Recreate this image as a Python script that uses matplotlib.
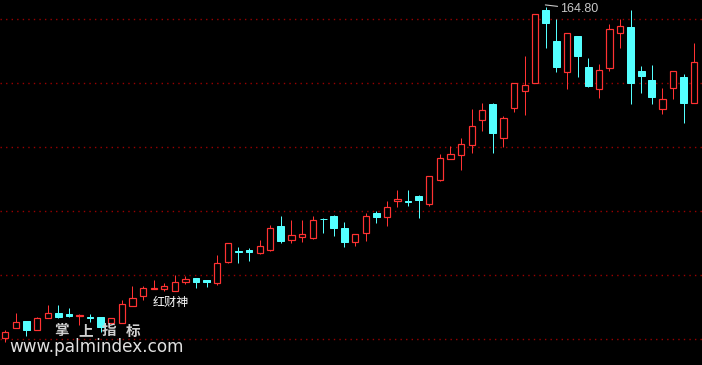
import matplotlib
matplotlib.use("Agg")
import matplotlib.pyplot as plt
import numpy as np

# ---- data (OHLC) ----
opens = [61.22, 64.35, 66.63, 63.82, 67.66, 69.03, 68.81, 68.19, 67.88, 67.78,
         65.85, 65.91, 71.41, 74.53, 76.63, 76.53, 76.10, 78.72, 80.16, 79.53,
         78.41, 85.16, 88.41, 88.82, 87.97, 88.82, 96.31, 92.03, 92.97, 92.66,
         98.66, 99.44, 95.69, 91.41, 94.03, 100.38, 99.03, 104.03, 104.19, 105.78,
         103.19, 110.69, 117.35, 118.60, 121.72, 129.53, 134.53, 123.91, 133.28, 138.60,
         141.10, 163.82, 154.13, 144.53, 155.78, 146.00, 139.03, 145.78, 156.72, 158.50,
         144.75, 141.94, 132.78, 139.53, 142.88, 134.85]
highs = [63.82, 69.22, 66.63, 67.97, 71.63, 71.63, 70.60, 68.81, 68.81, 67.78,
         67.47, 73.19, 77.56, 77.56, 79.44, 78.60, 81.00, 80.69, 80.16, 79.53,
         87.25, 90.91, 89.85, 89.35, 91.94, 96.63, 99.44, 98.19, 98.19, 99.44,
         98.81, 99.75, 97.56, 93.72, 100.28, 101.00, 104.13, 107.57, 107.57, 106.10,
         111.94, 118.82, 121.32, 123.82, 132.88, 134.85, 134.85, 130.78, 140.91, 149.44,
         162.47, 164.80, 161.00, 156.63, 155.78, 148.82, 146.94, 159.44, 160.91, 163.82,
         146.32, 146.63, 139.44, 144.75, 143.82, 153.60]
lows = [60.16, 64.35, 62.03, 63.82, 67.66, 67.66, 67.97, 65.38, 66.41, 63.10,
        65.85, 65.91, 71.41, 73.19, 76.63, 76.10, 76.10, 78.10, 76.85, 77.16,
        77.88, 84.85, 84.66, 85.47, 87.56, 88.60, 90.91, 91.10, 91.41, 92.35,
        94.22, 93.28, 89.85, 90.16, 91.72, 97.35, 96.41, 102.35, 102.66, 98.91,
        102.66, 110.47, 117.35, 113.82, 119.22, 126.10, 119.22, 120.91, 132.03, 131.00,
        141.10, 152.03, 144.53, 139.13, 142.97, 139.85, 136.41, 144.85, 152.03, 134.44,
        137.97, 134.53, 131.41, 135.97, 128.60, 134.85]
closes = [63.19, 66.41, 63.91, 67.66, 69.03, 67.97, 68.28, 68.59, 67.47, 64.75,
          67.47, 71.94, 73.72, 76.94, 76.94, 77.56, 78.72, 79.75, 78.91, 78.91,
          84.66, 90.91, 88.10, 88.19, 90.06, 95.60, 91.63, 93.41, 93.81, 98.19,
          98.35, 95.78, 91.41, 93.72, 99.44, 99.22, 102.16, 104.75, 103.88, 104.53,
          111.94, 117.57, 118.72, 121.94, 127.57, 132.57, 125.47, 130.07, 140.91, 140.28,
          162.47, 159.85, 146.10, 156.63, 149.53, 140.07, 145.07, 157.88, 158.82, 141.10,
          143.28, 136.72, 135.91, 144.75, 134.85, 147.57]
grid_levels = [61, 81, 101, 121, 141, 161]
peak_label = "164.80"
indicator_name = "红财神"
brand_chars = ["掌", "上", "指", "标"]
site = "www.palmindex.com"

UP = "#ff3232"
DOWN = "#54ffff"
BG = "#000000"
GRID = "#9a0000"

o = np.array(opens); h = np.array(highs); l = np.array(lows); c = np.array(closes)
x = np.arange(len(o))
up = c >= o

fig = plt.figure(figsize=(7.02, 3.65), dpi=100, facecolor=BG)
ax = fig.add_axes([0, 0, 1, 1])
ax.set_facecolor(BG)
ax.set_xlim(-0.5, 65.73)
ax.set_ylim(52.88, 166.94)
for s in ax.spines.values():
    s.set_visible(False)
ax.set_xticks([]); ax.set_yticks([])

for g in grid_levels:
    ax.axhline(g, color=GRID, lw=1.0, linestyle=(0, (1, 3)), zorder=1)

lw_px = 72 / 100
w = 0.58
colors = np.where(up, UP, DOWN)
ax.vlines(x, l, h, colors=colors, lw=1.0 * lw_px, zorder=2)
bot = np.minimum(o, c); top = np.maximum(o, c)
ax.bar(x[up], (top - bot)[up], bottom=bot[up], width=w, facecolor=BG,
       edgecolor=UP, linewidth=1.2 * lw_px, zorder=3)
ax.bar(x[~up], (top - bot)[~up], bottom=bot[~up], width=w + 0.06, facecolor=DOWN,
       edgecolor=DOWN, linewidth=1.0 * lw_px, zorder=3)

# peak annotation
imax = int(np.argmax(h))
ax.annotate(peak_label, xy=(imax - 0.05, h[imax] + 0.6), xytext=(15, -4),
            textcoords="offset pixels", ha="left", va="center",
            color="#c8c8c8", fontsize=9, family="Liberation Sans",
            arrowprops=dict(arrowstyle="-", color="#c8c8c8", lw=0.8,
                            shrinkA=0, shrinkB=0), zorder=5)

ax.text(153 / 702, 1 - 302.5 / 365, indicator_name, transform=ax.transAxes,
        color="white", fontsize=8.7, family=["Noto Sans CJK SC", "DejaVu Sans"],
        ha="left", va="center", zorder=6)

for k, ch in enumerate(brand_chars):
    ax.text((61.5 + 23.8 * k) / 702, 1 - 330.5 / 365, ch, transform=ax.transAxes,
            color="#d0d0d0", fontsize=10.5, fontweight="bold",
            family=["Noto Sans CJK SC", "DejaVu Sans"],
            ha="center", va="center", zorder=6)

ax.text(9 / 702, 1 - 346.5 / 365, site, transform=ax.transAxes,
        color="#e0e0e0", fontsize=12.2, family="DejaVu Sans",
        ha="left", va="center", zorder=6)

fig.savefig("out.png", dpi=100, facecolor=BG)
